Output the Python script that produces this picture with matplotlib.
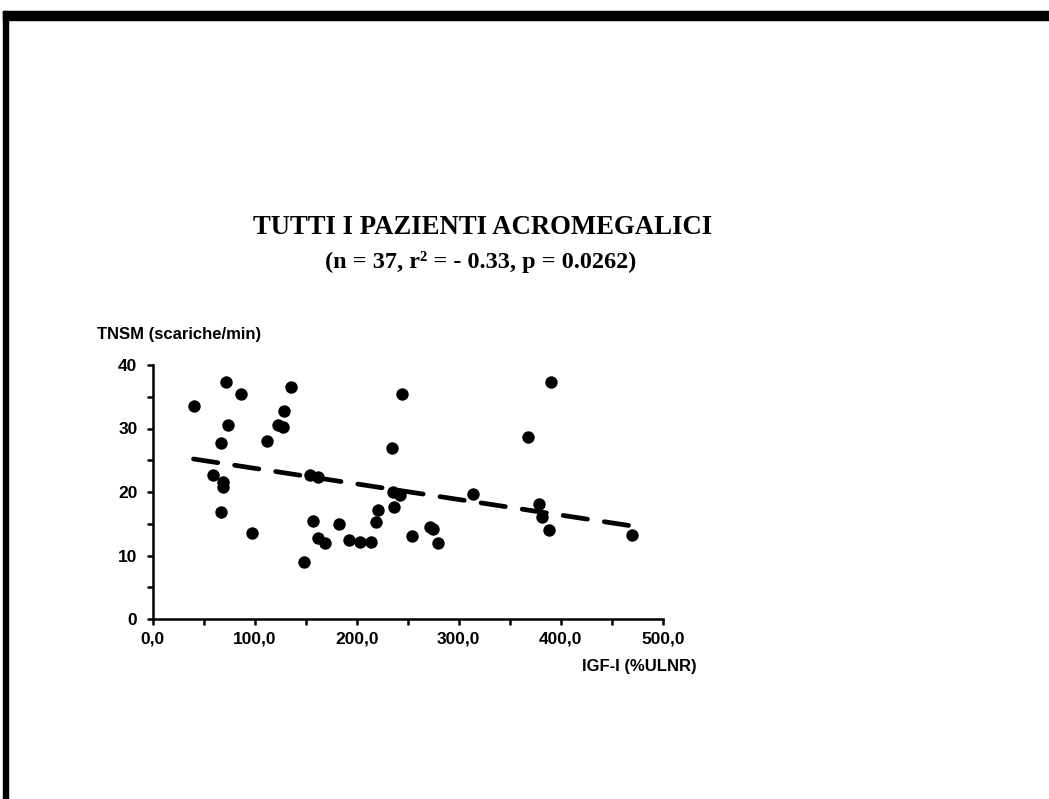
import numpy as np
import matplotlib.pyplot as plt
from matplotlib.patches import Rectangle

# IGF-I (%ULNR) vs TNSM (scariche/min)
igf = [40.5, 71.9, 86.9, 135.6, 244.1, 128.8, 73.9, 123.2, 128.1, 112.4,
       67.0, 235.0, 59.5, 69.3, 68.6, 154.2, 162.4, 235.9, 242.5, 236.6,
       66.7, 221.2, 157.2, 183.0, 219.0, 97.0, 162.4, 169.0, 192.5, 203.2,
       213.8, 148.3, 253.9, 271.9, 274.5, 279.4, 314.3, 368.2, 390.5, 378.7,
       381.4, 388.8, 469.6]
tnsm = [33.5, 37.3, 35.5, 36.6, 35.5, 32.8, 30.5, 30.5, 30.3, 28.0,
        27.7, 26.9, 22.7, 21.6, 20.8, 22.6, 22.3, 20.0, 19.5, 17.7,
        16.9, 17.2, 15.5, 14.9, 15.2, 13.6, 12.7, 12.0, 12.5, 12.2,
        12.2, 9.0, 13.0, 14.5, 14.1, 12.0, 19.7, 28.6, 37.4, 18.1,
        16.0, 14.0, 13.2]

# retta di regressione (estremi)
retta_x = [40.0, 472.0]
retta_y = [25.2, 14.6]

titolo = "TUTTI I PAZIENTI ACROMEGALICI"
sottotitolo = "(n = 37, r\u00b2 = - 0.33, p = 0.0262)"

fig = plt.figure(figsize=(10.49, 7.99), dpi=100)
fig.patch.set_facecolor('white')

# cornice nera (alto e sinistra)
fig.patches.append(Rectangle((3 / 1049, 1 - 20 / 799), 1.0, 9 / 799,
                             transform=fig.transFigure, color='black', zorder=0))
fig.patches.append(Rectangle((3 / 1049, 0), 5 / 1049, 1 - 11 / 799,
                             transform=fig.transFigure, color='black', zorder=0))

ax = fig.add_axes([152.7 / 1049, 1 - 619 / 799, 510 / 1049, 254 / 799])

ax.scatter(igf, tnsm, s=80, color='black', zorder=3, linewidths=0)
ax.plot(retta_x, retta_y, color='black', lw=3.4, linestyle=(0, (5.2, 3.6)),
        dash_capstyle='round', zorder=2)

ax.set_xlim(0, 500)
ax.set_ylim(0, 40)

for lato in ['top', 'right']:
    ax.spines[lato].set_visible(False)
for lato in ['left', 'bottom']:
    ax.spines[lato].set_linewidth(1.8)

ax.set_xticks(np.arange(0, 501, 100))
ax.set_xticks(np.arange(0, 501, 50), minor=True)
ax.set_yticks(np.arange(0, 41, 10))
ax.set_yticks(np.arange(0, 41, 5), minor=True)
ax.set_xticklabels([f"{v:.1f}".replace('.', ',') for v in np.arange(0, 501, 100)])
ax.tick_params(which='both', direction='out', length=4, width=1.8)
ax.tick_params(axis='x', pad=5)
ax.tick_params(axis='y', pad=7)
for lab in ax.get_xticklabels() + ax.get_yticklabels():
    lab.set_fontfamily('Liberation Sans')
    lab.set_fontweight('bold')
    lab.set_fontsize(12.5)

fig.text(97 / 1049, 1 - 335 / 799, "TNSM (scariche/min)", family='Liberation Sans',
         weight='bold', fontsize=12, ha='left', va='center')
fig.text(697 / 1049, 1 - 667 / 799, "IGF-I (%ULNR)", family='Liberation Sans',
         weight='bold', fontsize=12, ha='right', va='center')

fig.text(483 / 1049, 1 - 228 / 799, titolo, family='Liberation Serif',
         weight='bold', fontsize=19.3, ha='center', va='center')
fig.text(481 / 1049, 1 - 262 / 799, sottotitolo, family='Liberation Serif',
         weight='bold', fontsize=17.5, ha='center', va='center')

plt.savefig("out.png", dpi=100)
